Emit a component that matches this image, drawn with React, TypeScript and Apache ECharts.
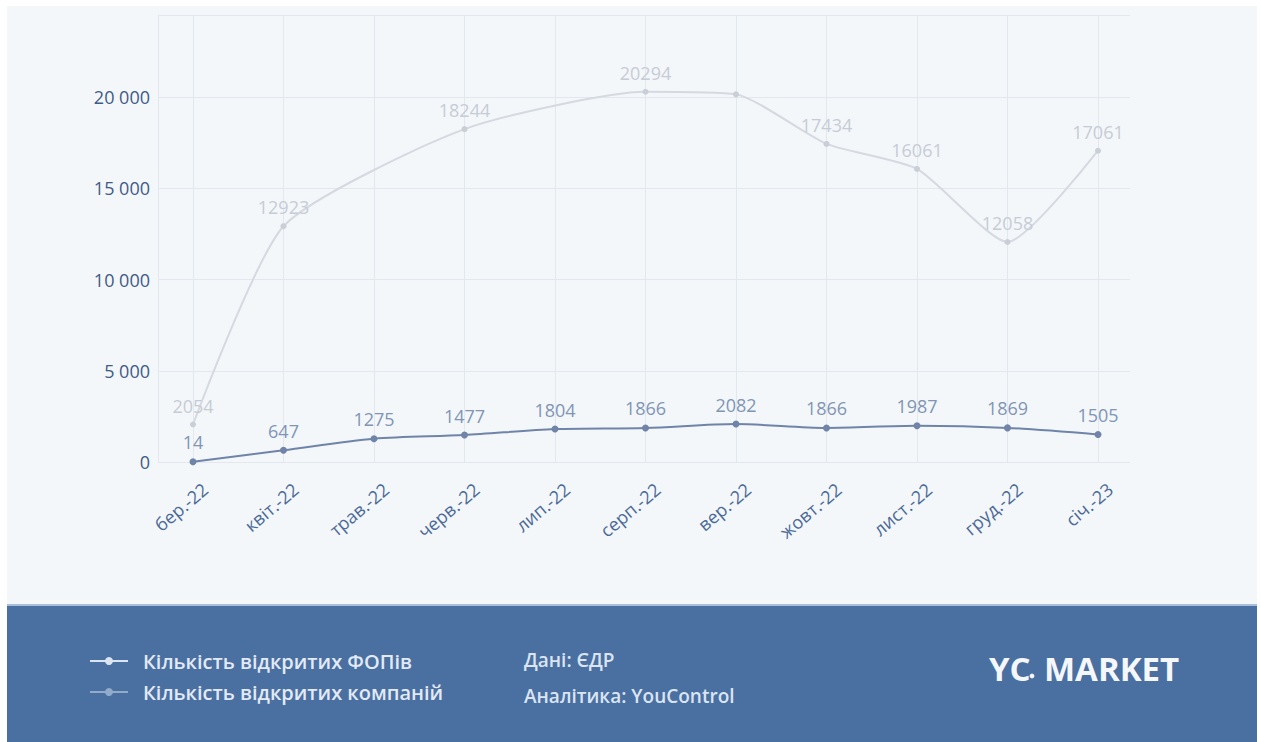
import React, { useEffect, useRef } from "react";
import * as echarts from "echarts";

// Months (Mar 2022 – Jan 2023)
const months = [
  "бер.-22",
  "квіт.-22",
  "трав.-22",
  "черв.-22",
  "лип.-22",
  "серп.-22",
  "вер.-22",
  "жовт.-22",
  "лист.-22",
  "груд.-22",
  "січ.-23",
];

// Newly registered sole proprietors (ФОП)
const fopOpened = [14, 647, 1275, 1477, 1804, 1866, 2082, 1866, 1987, 1869, 1505];

// Newly registered companies; null = month without a marker
const companiesOpened: (number | null)[] = [
  2054, 12923, null, 18244, null, 20294, 20150, 17434, 16061, 12058, 17061,
];
// Months whose company value carries no label
const companiesUnlabelled = ["вер.-22"];

const yTicks = [0, 5000, 10000, 15000, 20000];

const seriesNames = ["Кількість відкритих ФОПів", "Кількість відкритих компаній"];

const FONT = "'Open Sans', 'Noto Sans', sans-serif";

const fmt = (v: number) => String(v).replace(/\B(?=(\d{3})+(?!\d))/g, " ");

export default function App() {
  const ref = useRef<HTMLDivElement>(null);

  useEffect(() => {
    if (!ref.current) return;
    const chart = echarts.init(ref.current, undefined, { renderer: "svg" });
    const yMax = 24500;
    const gridLine = "#e3e8ee";

    chart.setOption({
      animation: false,
      backgroundColor: "#ffffff",
      textStyle: { fontFamily: FONT },
      graphic: [
        {
          type: "rect",
          z: -10,
          shape: { x: 7, y: 6, width: 1250, height: 600 },
          style: { fill: "#f4f7fa" },
        },
        {
          type: "rect",
          z: -10,
          shape: { x: 7, y: 605, width: 1250, height: 137 },
          style: { fill: "#4a6fa1" },
        },
        {
          type: "rect",
          z: -9,
          shape: { x: 7, y: 604, width: 1250, height: 2 },
          style: { fill: "#a9bfd9" },
        },
        {
          type: "text",
          left: 524,
          top: 650,
          style: { text: "Дані: ЄДР", fill: "#dbe5f2", font: `600 19px ${FONT}` },
        },
        {
          type: "text",
          left: 524,
          top: 686,
          style: { text: "Аналітика: YouControl", fill: "#dbe5f2", font: `600 19px ${FONT}` },
        },
        {
          type: "text",
          left: 989,
          top: 652,
          style: { text: "YC", fill: "#f4f7fb", font: `bold 33px ${FONT}` },
        },
        {
          type: "circle",
          shape: { cx: 1032, cy: 676, r: 2.4 },
          style: { fill: "#f4f7fb" },
        },
        {
          type: "text",
          left: 1044,
          top: 652,
          style: { text: "MARKET", fill: "#f4f7fb", font: `bold 33px ${FONT}` },
        },
      ],
      legend: {
        orient: "vertical",
        left: 84,
        top: 646,
        itemGap: 11,
        itemWidth: 38,
        itemHeight: 10,
        textStyle: {
          color: "#e2eaf5",
          fontSize: 20,
          fontWeight: 600,
          fontFamily: FONT,
          padding: [0, 0, 0, 10],
        },
        data: [
          {
            name: seriesNames[0],
            itemStyle: { color: "#dbe5f2" },
            lineStyle: { color: "#dbe5f2" },
          },
          {
            name: seriesNames[1],
            itemStyle: { color: "#93abcb" },
            lineStyle: { color: "#93abcb" },
          },
        ],
      },
      grid: [
        { left: 158, right: 131, top: 15, bottom: 280 },
        { left: 193, right: 163, top: 15, bottom: 280 },
      ],
      xAxis: [
        {
          gridIndex: 0,
          type: "value",
          min: 0,
          max: 1,
          show: false,
        },
        {
          gridIndex: 1,
          type: "category",
          data: months,
          boundaryGap: false,
          axisLine: { show: false },
          axisTick: { show: false },
          splitLine: { show: true, lineStyle: { color: gridLine, width: 1 } },
          axisLabel: {
            rotate: 40,
            margin: 10,
            verticalAlign: "top",
            lineHeight: 38,
            color: "#4b6a97",
            fontSize: 18,
            fontFamily: FONT,
          },
        },
      ],
      yAxis: [
        {
          gridIndex: 0,
          type: "value",
          min: 0,
          max: yMax,
          interval: 5000,
          axisLine: { show: true, lineStyle: { color: gridLine } },
          axisTick: { show: false },
          splitLine: { lineStyle: { color: gridLine, width: 1 } },
          axisLabel: {
            margin: 8,
            color: "#3f5b86",
            fontSize: 18,
            fontFamily: FONT,
            showMaxLabel: false,
            formatter: (v: number) => (yTicks.includes(v) ? fmt(v) : ""),
          },
        },
        {
          gridIndex: 1,
          type: "value",
          min: 0,
          max: yMax,
          show: false,
          splitLine: { show: false },
        },
      ],
      series: [
        {
          name: seriesNames[0],
          type: "line",
          xAxisIndex: 1,
          yAxisIndex: 1,
          data: fopOpened,
          smooth: 0.3,
          symbol: "circle",
          symbolSize: 7,
          z: 3,
          lineStyle: { color: "#6f84a8", width: 2 },
          itemStyle: { color: "#6f84a8" },
          label: {
            show: true,
            position: "top",
            distance: 7,
            color: "#8195b5",
            fontSize: 18,
            fontFamily: FONT,
          },
        },
        {
          name: seriesNames[1],
          type: "line",
          xAxisIndex: 1,
          yAxisIndex: 1,
          data: companiesOpened.map((v, i) =>
            companiesUnlabelled.includes(months[i])
              ? { value: v, label: { show: false } }
              : v
          ),
          connectNulls: true,
          smooth: 0.2,
          symbol: "circle",
          symbolSize: 6,
          z: 2,
          lineStyle: { color: "#d5d9e0", width: 2 },
          itemStyle: { color: "#c9ced7" },
          label: {
            show: true,
            position: "top",
            distance: 7,
            color: "#c6ccd6",
            fontSize: 18,
            fontFamily: FONT,
          },
        },
      ],
    });

    return () => chart.dispose();
  }, []);

  return (
    <div
      ref={ref}
      style={{ position: "fixed", left: 0, top: 0, width: 1261, height: 742 }}
    />
  );
}
